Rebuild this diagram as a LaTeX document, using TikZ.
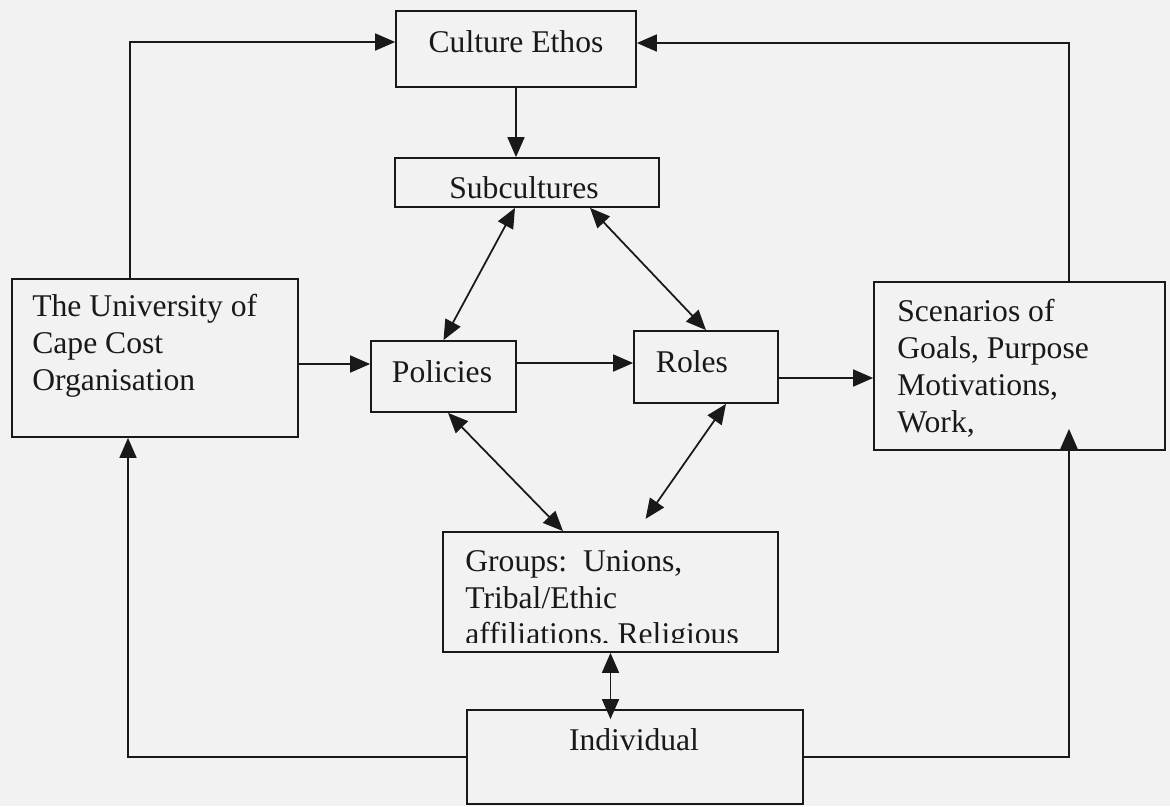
\documentclass[tikz,border=0pt]{standalone}
\usepackage{fontspec}
\setmainfont{Liberation Serif}
\usepackage{tikz}
\usetikzlibrary{arrows.meta}
\definecolor{paper}{RGB}{242, 242, 242}
\definecolor{ink}{RGB}{25, 25, 25}

\begin{document}
\begin{tikzpicture}[x=0.02cm, y=-0.02cm]
  \tikzstyle{box} = [rectangle, draw=ink, line width=1pt, inner sep=0pt]
  \tikzstyle{boxtext} = [inner sep=0pt, text=ink, font=\fontsize{18}{21}\selectfont]
  \tikzstyle{arrow} = [line width=1pt, draw=ink, -{Triangle[length=0.4cm, width=0.34cm]}]
  \tikzstyle{dblarrow} = [line width=1pt, draw=ink, {Triangle[length=0.4cm, width=0.34cm]}-{Triangle[length=0.4cm, width=0.34cm]}]

  \fill[paper] (0,0) rectangle (1170,806);
  \useasboundingbox (0,0) rectangle (1170,806);

  % boxes
  \node (culture) [box, minimum width=4.8cm, minimum height=1.52cm] at (516,49) {};
  \node (sub) [box, minimum width=5.28cm, minimum height=0.98cm] at (527,182.5) {};
  \node (univ) [box, minimum width=5.72cm, minimum height=3.16cm] at (155,358) {};
  \node (policies) [box, minimum width=2.9cm, minimum height=1.42cm] at (443.5,376.5) {};
  \node (roles) [box, minimum width=2.88cm, minimum height=1.44cm] at (706,367) {};
  \node (scen) [box, minimum width=5.82cm, minimum height=3.36cm] at (1019.5,366) {};
  \node (groups) [box, minimum width=6.7cm, minimum height=2.4cm] at (610.5,592) {};
  \node (indiv) [box, minimum width=6.72cm, minimum height=1.88cm] at (635,757) {};

  % texts
  \node (culturetext) [boxtext] at (516,42) {Culture Ethos};
  \node (subtext) [boxtext] at (524,188) {Subcultures};
  \node (univtext) [boxtext, align=left, anchor=west] at (32,346) {The University of\\Cape Cost\\Organisation};
  \node (policiestext) [boxtext] at (442,372) {Policies};
  \node (rolestext) [boxtext] at (692,362) {Roles};
  \node (scentext) [boxtext, align=left, anchor=west] at (897,368) {Scenarios of\\Goals, Purpose\\Motivations,\\Work,};
  \begin{scope}
    \clip (groups.north west) rectangle ([yshift=0.2cm]groups.south east);
    \node (groupstext) [boxtext, align=left, anchor=west] at (465,601) {Groups:~~Unions,\\Tribal/Ethic\\affiliations, Religious};
  \end{scope}
  \node (indivtext) [boxtext] at (634,740) {Individual};

  % connectors
  \draw [arrow] ([xshift=-0.5cm]univ.north) |- ([yshift=0.14cm]culture.west);
  \draw [arrow] ([xshift=0.99cm]scen.north) |- ([yshift=0.12cm]culture.east);
  \draw [arrow] (culture.south) -- (culture.south |- sub.north);
  \draw [dblarrow] ([xshift=-0.24cm]sub.south) -- (policies.north);
  \draw [dblarrow] ([xshift=1.26cm]sub.south) -- (roles.north);
  \draw [arrow] ([yshift=0.25cm]univ.east |- policies.west) -- ([yshift=0.25cm]policies.west);
  \draw [arrow] ([yshift=0.27cm]policies.east) -- ([yshift=0.27cm]policies.east -| roles.west);
  \draw [arrow] ([yshift=-0.22cm]roles.east) -- ([yshift=-0.22cm]roles.east -| scen.west);
  \draw [dblarrow] ([xshift=0.09cm]policies.south) -- ([xshift=-0.95cm]groups.north);
  \draw [dblarrow, shorten >=0.3cm] ([xshift=0.4cm]roles.south) -- ([xshift=0.53cm]groups.north);
  \draw [dblarrow, shorten >=-0.2cm] (groups.south) -- (groups.south |- indiv.north);
  \draw [arrow] (indiv.west) -| ([xshift=-0.54cm]univ.south);
  \draw [arrow, shorten >=-0.44cm] (indiv.east) -| ([xshift=0.99cm]scen.south);
\end{tikzpicture}
\end{document}
